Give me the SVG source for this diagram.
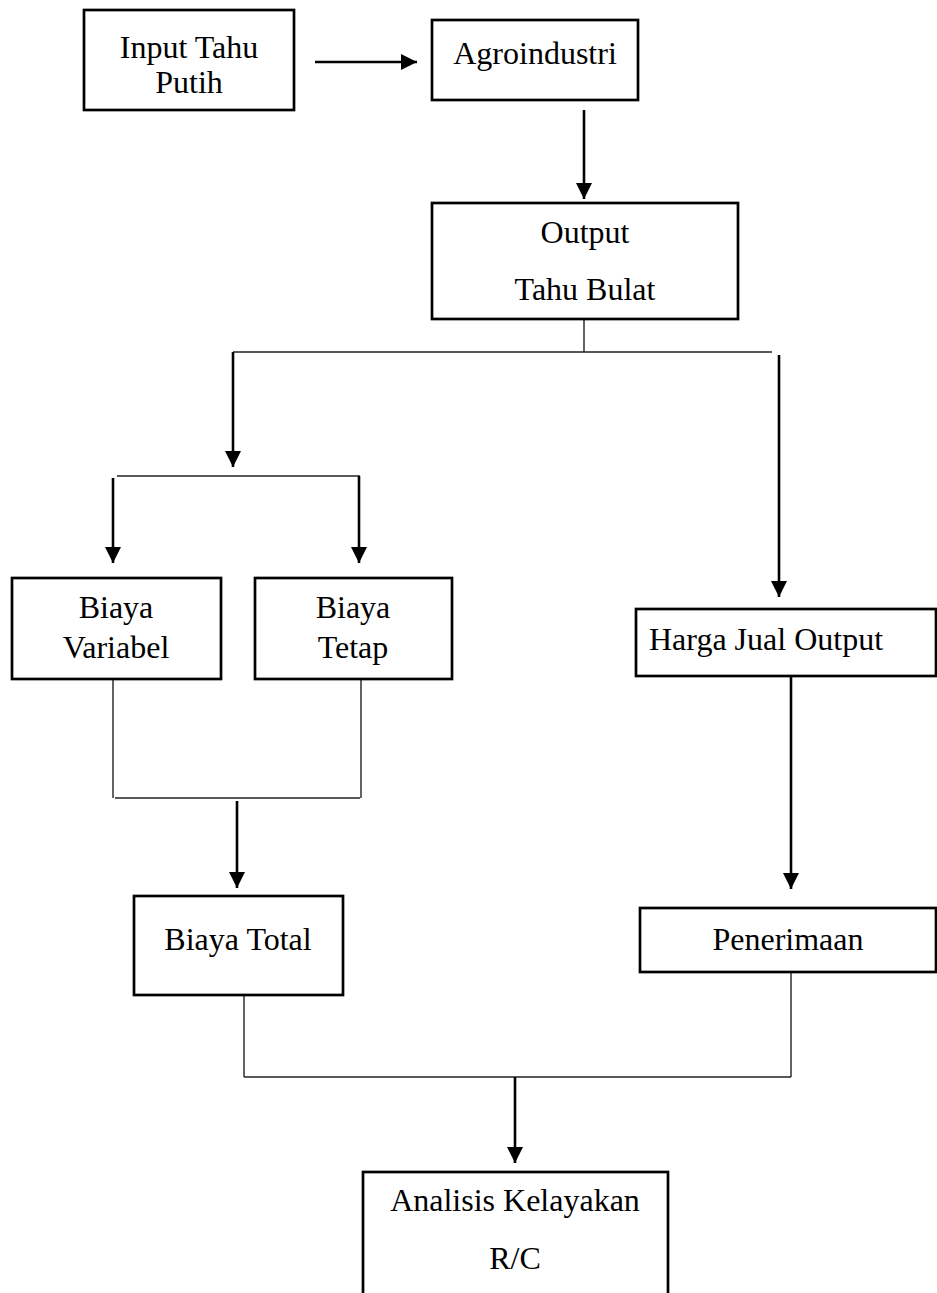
<svg xmlns="http://www.w3.org/2000/svg" width="937" height="1293" viewBox="0 0 937 1293">
<style>
.box{fill:#fff;stroke:#000;stroke-width:2.7}
.t{font-family:"Liberation Serif","Times New Roman",serif;font-size:32px;fill:#000;text-anchor:middle}
.thin{stroke:#222;stroke-width:1.4;fill:none}
.arr{stroke:#000;stroke-width:2.6;fill:none;marker-end:url(#ah)}
</style>
<defs>
<marker id="ah" markerUnits="userSpaceOnUse" markerWidth="16" markerHeight="16" viewBox="0 0 16 16" refX="16" refY="8" orient="auto">
<path d="M0,0 L16,8 L0,16 Z" fill="#000"/>
</marker>
</defs>
<rect width="937" height="1293" fill="#fff"/>
<g id="connectors">
<line class="arr" x1="315" y1="62" x2="417" y2="62"/>
<line class="arr" x1="584" y1="110" x2="584" y2="199"/>
<line class="thin" x1="584" y1="319" x2="584" y2="352"/>
<line class="thin" x1="233" y1="352" x2="772" y2="352"/>
<line class="arr" x1="233" y1="352" x2="233" y2="467"/>
<line class="arr" x1="779" y1="355" x2="779" y2="597"/>
<line class="thin" x1="117" y1="476" x2="360" y2="476"/>
<line class="arr" x1="113" y1="478" x2="113" y2="563"/>
<line class="arr" x1="359" y1="476" x2="359" y2="563"/>
<line class="thin" x1="113" y1="679" x2="113" y2="798"/>
<line class="thin" x1="361" y1="679" x2="361" y2="798"/>
<line class="thin" x1="115" y1="798" x2="360" y2="798"/>
<line class="arr" x1="237" y1="801" x2="237" y2="888"/>
<line class="arr" x1="791" y1="676" x2="791" y2="889"/>
<line class="thin" x1="244" y1="995" x2="244" y2="1077"/>
<line class="thin" x1="791" y1="972" x2="791" y2="1077"/>
<line class="thin" x1="244" y1="1077" x2="791" y2="1077"/>
<line class="arr" x1="515" y1="1077" x2="515" y2="1163"/>
</g>
<g id="input"><rect class="box" x="84" y="10" width="210" height="100"/><text class="t" x="189" y="58">Input Tahu</text><text class="t" x="189" y="93">Putih</text></g>
<g id="agro"><rect class="box" x="432" y="20" width="206" height="80"/><text class="t" x="535" y="64">Agroindustri</text></g>
<g id="output"><rect class="box" x="432" y="203" width="306" height="116"/><text class="t" x="585" y="243">Output</text><text class="t" x="585" y="300">Tahu Bulat</text></g>
<g id="biaya-variabel"><rect class="box" x="12" y="578" width="209" height="101"/><text class="t" x="116" y="618">Biaya</text><text class="t" x="116" y="658">Variabel</text></g>
<g id="biaya-tetap"><rect class="box" x="255" y="578" width="197" height="101"/><text class="t" x="353" y="618">Biaya</text><text class="t" x="353" y="658">Tetap</text></g>
<g id="harga"><rect class="box" x="636" y="609" width="300" height="67"/><text class="t" x="766" y="650">Harga Jual Output</text></g>
<g id="biaya-total"><rect class="box" x="134" y="896" width="209" height="99"/><text class="t" x="238" y="950">Biaya Total</text></g>
<g id="penerimaan"><rect class="box" x="640" y="908" width="296" height="64"/><text class="t" x="788" y="950">Penerimaan</text></g>
<g id="analisis"><rect class="box" x="363" y="1172" width="305" height="140"/><text class="t" x="515" y="1211">Analisis Kelayakan</text><text class="t" x="515" y="1269">R/C</text></g>
</svg>
